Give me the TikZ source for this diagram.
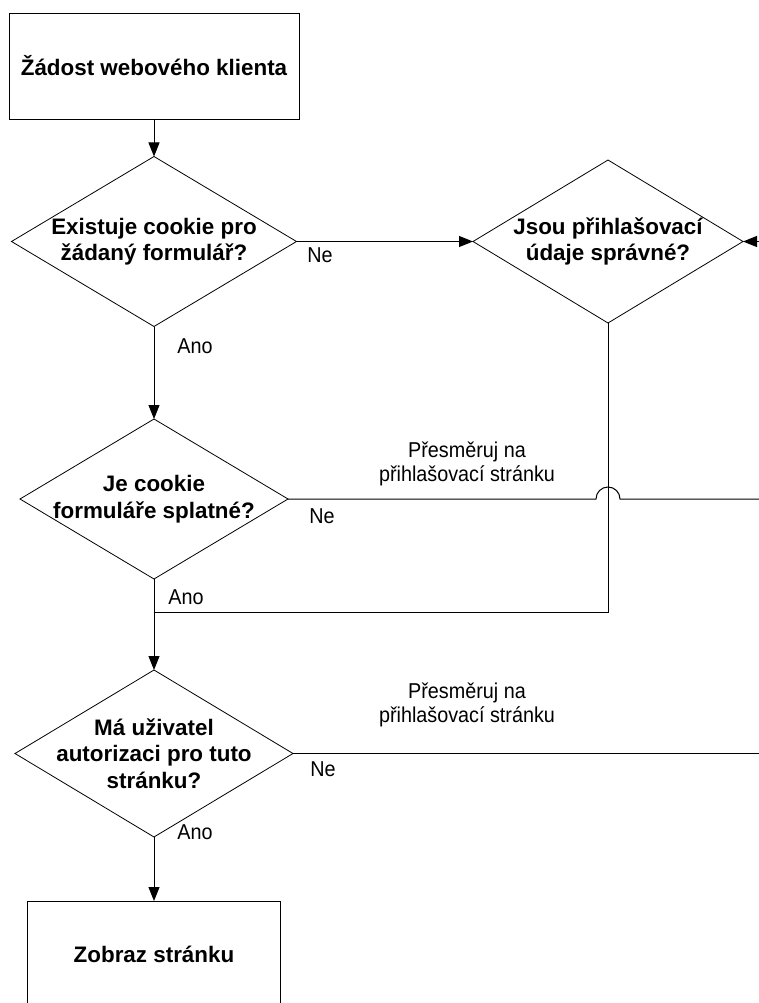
\documentclass[tikz,border=0pt]{standalone}
\usepackage{fontspec}
\setmainfont{Liberation Sans}
\newfontfamily\labfont[FakeStretch=0.92]{Liberation Sans}
\usetikzlibrary{shapes.geometric,arrows.meta}
\begin{document}
\begin{tikzpicture}[x=1pt,y=1pt,
  shapeline/.style={draw=black,line width=0.8pt},
  procbox/.style={shapeline,rectangle,inner sep=0pt,outer sep=0pt,font=\fontsize{22.4}{26.5}\selectfont\bfseries},
  decision/.style={shapeline,diamond,inner sep=0pt,outer sep=0pt},
  dtext/.style={align=center,inner sep=0pt,font=\fontsize{22.4}{26.5}\selectfont\bfseries},
  lab/.style={inner sep=0pt,align=center,font=\labfont\fontsize{21.5}{24}\selectfont},
  conn/.style={draw=black,line width=1pt},
  arr/.style={conn,-{Triangle[length=14pt,width=11pt]}},
]
\useasboundingbox (0,0) rectangle (759,-1003);
\clip (0,0) rectangle (759,-1003);

\node[procbox,minimum width=290,minimum height=106] (req) at (154,-66) {Žádost webového klienta};
\node[decision,minimum width=285,minimum height=170] (d1) at (154,-241.5) {};
\node[dtext] (t1) at (d1.center) {Existuje cookie pro\\žádaný formulář?};
\node[decision,minimum width=270,minimum height=163] (d2) at (608,-241.5) {};
\node[dtext] (t2) at (d2.center) {Jsou přihlašovací\\údaje správné?};
\node[decision,minimum width=268,minimum height=160] (d3) at (154,-499) {};
\node[dtext] (t3) at (d3.center) {Je cookie\\formuláře splatné?};
\node[decision,minimum width=278,minimum height=167] (d4) at (154,-753.5) {};
\node[dtext] (t4) at (d4.center) {Má uživatel\\autorizaci pro tuto\\stránku?};
\node[procbox,minimum width=253,minimum height=106] (show) at (154,-954) {Zobraz stránku};

\coordinate (e2) at (759,-241.5);
\coordinate (e3) at (759,-499);
\coordinate (e4) at (759,-753.5);
\coordinate (j) at (154,-612);
\coordinate (hopL) at (596,-499);

\draw[arr] (req.south) -- (d1.north);
\draw[arr] (d1.east) -- (d2.west);
\draw[arr] (e2) -- (d2.east);
\draw[arr] (d1.south) -- (d3.north);
\draw[conn] (d3.east) -- (hopL) arc[start angle=180,end angle=0,radius=12] -- (e3);
\draw[conn] (d2.south) |- (j);
\draw[arr] (d3.south) -- (d4.north);
\draw[conn] (d4.east) -- (e4);
\draw[arr] (d4.south) -- (show.north);

\node[lab] (ne1) at (320,-255) {Ne};
\node[lab] (ano1) at (195,-346) {Ano};
\node[lab] (redir3) at (467,-464) {Přesměruj na\\přihlašovací stránku};
\node[lab] (ne3) at (322,-516) {Ne};
\node[lab] (ano3) at (186,-597) {Ano};
\node[lab] (redir4) at (467,-705) {Přesměruj na\\přihlašovací stránku};
\node[lab] (ne4) at (323,-769) {Ne};
\node[lab] (ano4) at (195,-832) {Ano};
\end{tikzpicture}
\end{document}
